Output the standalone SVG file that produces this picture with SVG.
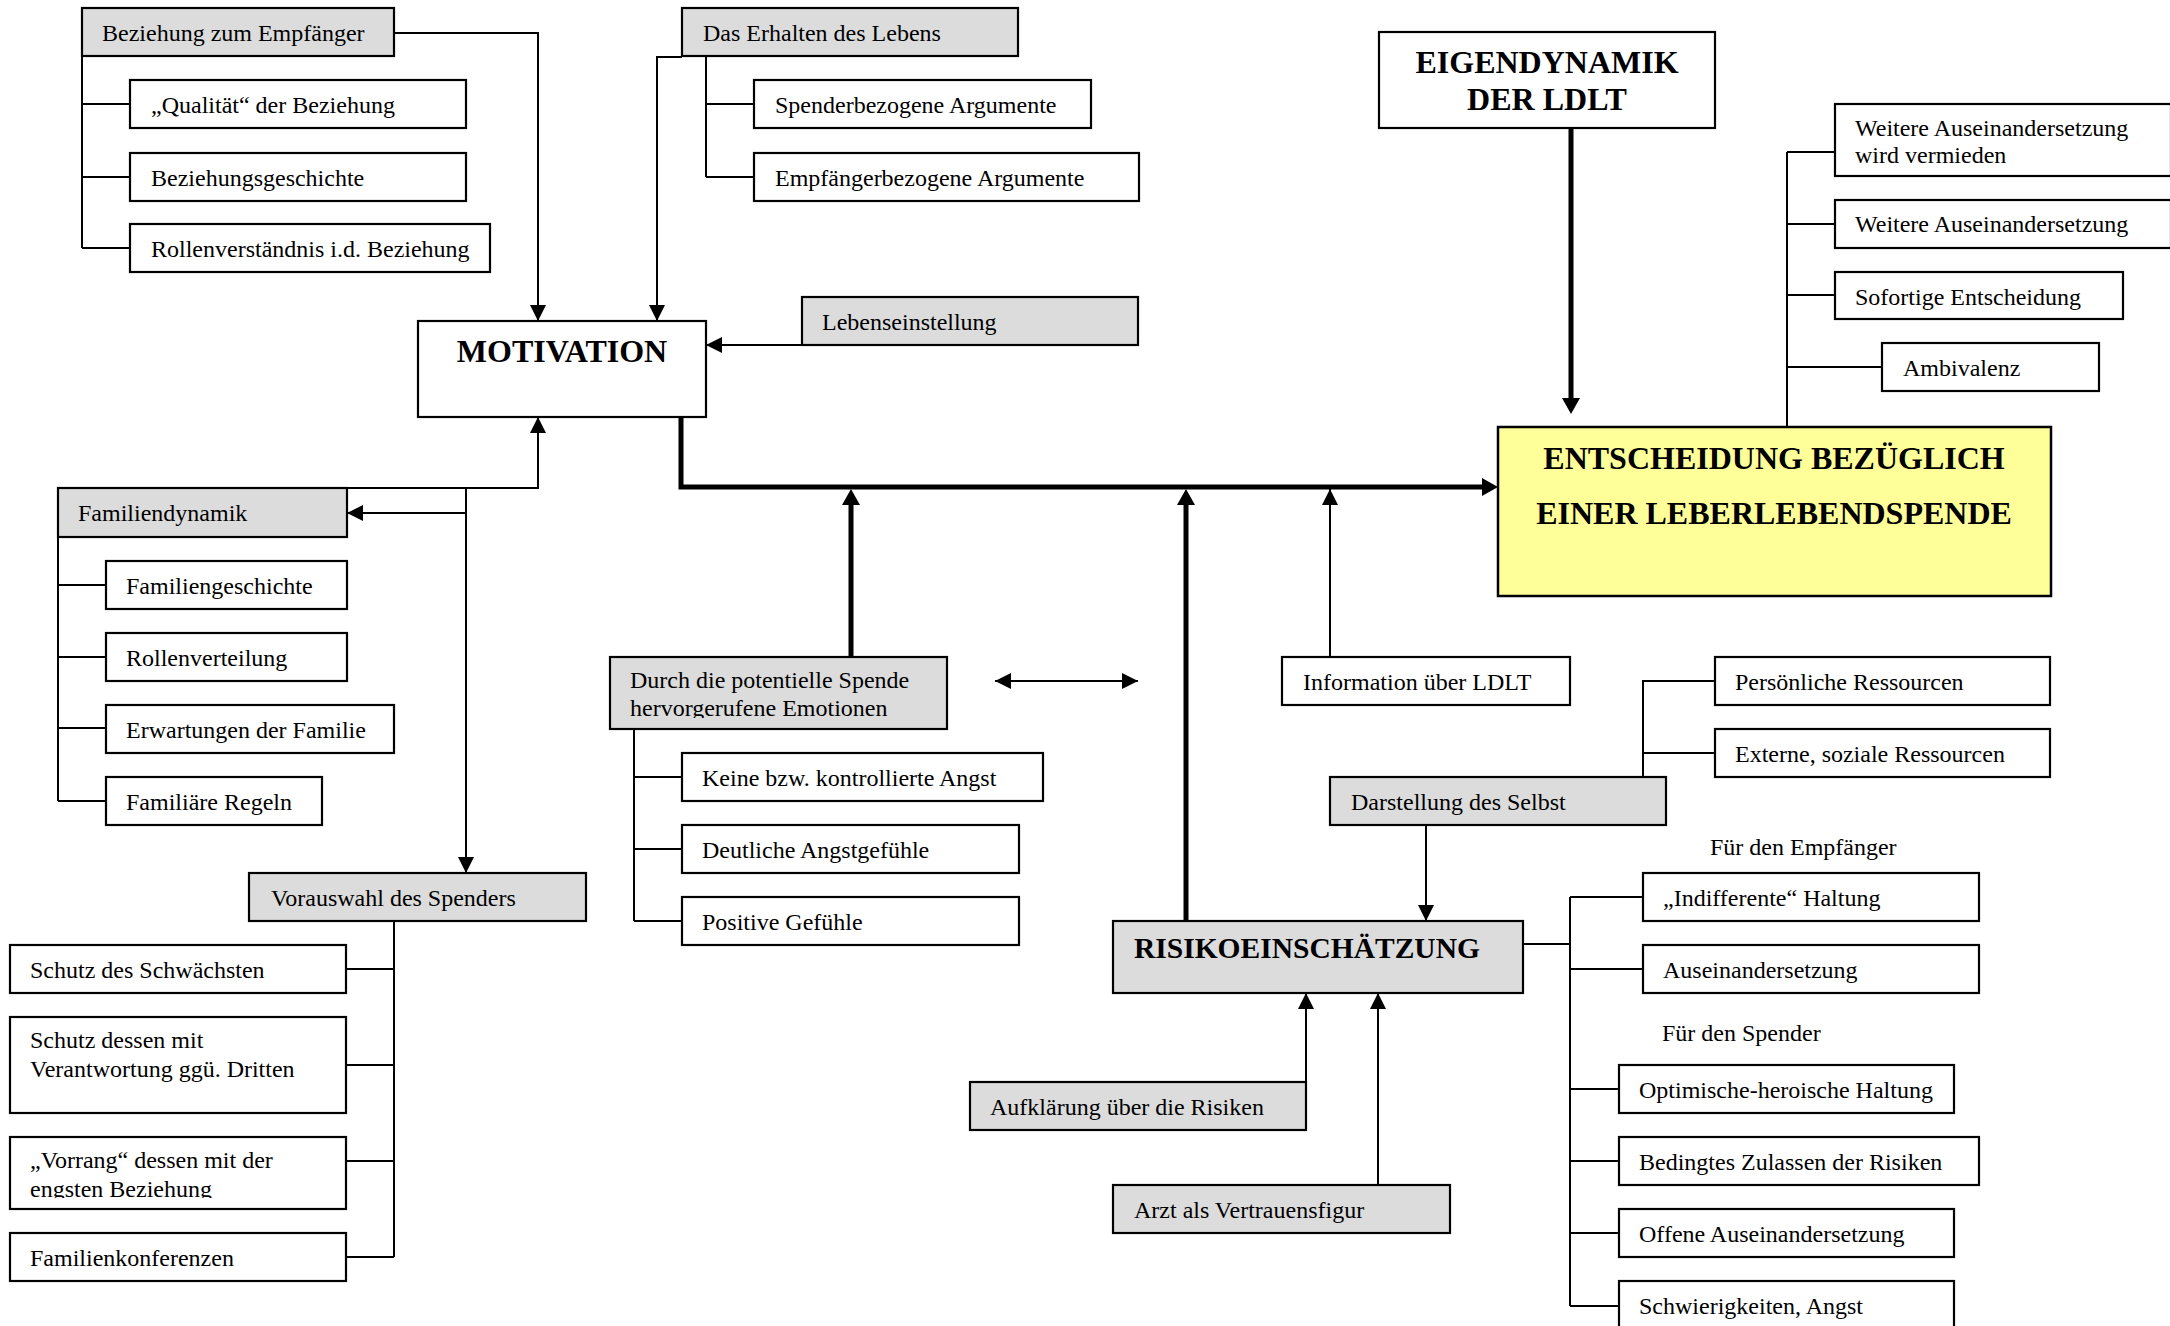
<svg xmlns="http://www.w3.org/2000/svg" width="2170" height="1326" viewBox="0 0 2170 1326">
<style>
 .b{fill:#fff;stroke:#000;stroke-width:2.2}
 .g{fill:#dcdcdc;stroke:#000;stroke-width:2.2}
 .y{fill:#ffff99;stroke:#000;stroke-width:2.5}
 text{font-family:"Liberation Serif","Times New Roman",serif;font-size:24px;fill:#000}
 .t{font-weight:bold;font-size:32px}
 .m{text-anchor:middle}
 .c{fill:none;stroke:#000;stroke-width:2}
 .k{fill:none;stroke:#000;stroke-width:5}
 .a{marker-end:url(#ah)}
 .ak{marker-end:url(#ahk)}
 .d{marker-start:url(#ah);marker-end:url(#ah)}
</style>
<defs>
 <marker id="ah" viewBox="0 0 16 16" refX="16" refY="8" markerWidth="16" markerHeight="16" markerUnits="userSpaceOnUse" orient="auto-start-reverse"><path d="M0,0 L16,8 L0,16 Z" fill="#000"/></marker>
 <marker id="ahk" viewBox="0 0 16 18" refX="6" refY="9" markerWidth="16" markerHeight="18" markerUnits="userSpaceOnUse" orient="auto"><path d="M0,0 L16,9 L0,18 Z" fill="#000"/></marker>
 <clipPath id="clipEmo"><rect x="600" y="650" width="360" height="68"/></clipPath>
 <clipPath id="clipVor"><rect x="0" y="1130" width="360" height="68"/></clipPath>
</defs>

<g id="connectors">
 <path class="c" d="M82,56 V248 M82,104 H130 M82,177 H130 M82,248 H130"/>
 <path class="c a" d="M394,33 H538 V321"/>
 <path class="c" d="M706,56 V177 M706,104 H754 M706,177 H754"/>
 <path class="c a" d="M682,57 H657 V321"/>
 <path class="c a" d="M802,345 H706"/>
 <path class="k ak" d="M1571,128 V404"/>
 <path class="c" d="M1787,152 V439 M1787,152 H1835 M1787,224 H1835 M1787,295 H1835 M1787,367 H1882"/>
 <path class="k ak" d="M681,417 V487 H1488"/>
 <path class="k ak" d="M851,657 V499"/>
 <path class="k ak" d="M1186,921 V499"/>
 <path class="c a" d="M1330,657 V489"/>
 <path class="c a" d="M347,488 H538 V417"/>
 <path class="c a" d="M466,488 V873"/>
 <path class="c a" d="M466,513 H347"/>
 <path class="c" d="M58,537 V801 M58,585 H106 M58,657 H106 M58,728 H106 M58,801 H106"/>
 <path class="c" d="M394,921 V1257 M346,969 H394 M346,1065 H394 M346,1161 H394 M346,1257 H394"/>
 <path class="c" d="M634,729 V921 M634,777 H682 M634,849 H682 M634,921 H682"/>
 <path class="c d" d="M995,681 H1138"/>
 <path class="c" d="M1643,777 V681 H1715 M1643,753 H1715"/>
 <path class="c a" d="M1426,825 V921"/>
 <path class="c" d="M1523,944 H1570 M1570,897 V1306 M1570,897 H1643 M1570,969 H1643 M1570,1089 H1619 M1570,1161 H1619 M1570,1233 H1619 M1570,1306 H1619"/>
 <path class="c a" d="M1306,1082 V993"/>
 <path class="c a" d="M1378,1185 V993"/>
</g>

<g id="bez"><rect class="g" x="82" y="8" width="312" height="48"/><text x="102" y="41">Beziehung zum Empfänger</text></g>
<g id="bez1"><rect class="b" x="130" y="80" width="336" height="48"/><text x="151" y="113">„Qualität“ der Beziehung</text></g>
<g id="bez2"><rect class="b" x="130" y="153" width="336" height="48"/><text x="151" y="186">Beziehungsgeschichte</text></g>
<g id="bez3"><rect class="b" x="130" y="224" width="360" height="48"/><text x="151" y="257">Rollenverständnis i.d. Beziehung</text></g>

<g id="erh"><rect class="g" x="682" y="8" width="336" height="48"/><text x="703" y="41">Das Erhalten des Lebens</text></g>
<g id="erh1"><rect class="b" x="754" y="80" width="337" height="48"/><text x="775" y="113">Spenderbezogene Argumente</text></g>
<g id="erh2"><rect class="b" x="754" y="153" width="385" height="48"/><text x="775" y="186">Empfängerbezogene Argumente</text></g>

<g id="mot"><rect class="b" x="418" y="321" width="288" height="96"/><text class="t m" x="562" y="362">MOTIVATION</text></g>
<g id="leb"><rect class="g" x="802" y="297" width="336" height="48"/><text x="822" y="330">Lebenseinstellung</text></g>

<g id="eigen"><rect class="b" x="1379" y="32" width="336" height="96"/><text class="t m" x="1547" y="73">EIGENDYNAMIK</text><text class="t m" x="1547" y="110">DER LDLT</text></g>

<g id="entsch"><rect class="y" x="1498" y="427" width="553" height="169"/><text class="t m" x="1774" y="469">ENTSCHEIDUNG BEZÜGLICH</text><text class="t m" x="1774" y="524">EINER LEBERLEBENDSPENDE</text></g>

<g id="opt1"><rect class="b" x="1835" y="104" width="336" height="72"/><text x="1855" y="136">Weitere Auseinandersetzung</text><text x="1855" y="163">wird vermieden</text></g>
<g id="opt2"><rect class="b" x="1835" y="200" width="336" height="48"/><text x="1855" y="232">Weitere Auseinandersetzung</text></g>
<g id="opt3"><rect class="b" x="1835" y="272" width="288" height="47"/><text x="1855" y="305">Sofortige Entscheidung</text></g>
<g id="opt4"><rect class="b" x="1882" y="343" width="217" height="48"/><text x="1903" y="376">Ambivalenz</text></g>

<g id="fam"><rect class="g" x="58" y="488" width="289" height="49"/><text x="78" y="521">Familiendynamik</text></g>
<g id="fam1"><rect class="b" x="106" y="561" width="241" height="48"/><text x="126" y="594">Familiengeschichte</text></g>
<g id="fam2"><rect class="b" x="106" y="633" width="241" height="48"/><text x="126" y="666">Rollenverteilung</text></g>
<g id="fam3"><rect class="b" x="106" y="705" width="288" height="48"/><text x="126" y="738">Erwartungen der Familie</text></g>
<g id="fam4"><rect class="b" x="106" y="777" width="216" height="48"/><text x="126" y="810">Familiäre Regeln</text></g>

<g id="vor"><rect class="g" x="249" y="873" width="337" height="48"/><text x="271" y="906">Vorauswahl des Spenders</text></g>
<g id="vor1"><rect class="b" x="10" y="945" width="336" height="48"/><text x="30" y="978">Schutz des Schwächsten</text></g>
<g id="vor2"><rect class="b" x="10" y="1017" width="336" height="96"/><text x="30" y="1048">Schutz dessen mit</text><text x="30" y="1077">Verantwortung ggü. Dritten</text></g>
<g id="vor3"><rect class="b" x="10" y="1137" width="336" height="72"/><g clip-path="url(#clipVor)"><text x="30" y="1168">„Vorrang“ dessen mit der</text><text x="30" y="1197">engsten Beziehung</text></g></g>
<g id="vor4"><rect class="b" x="10" y="1233" width="336" height="48"/><text x="30" y="1266">Familienkonferenzen</text></g>

<g id="emo"><rect class="g" x="610" y="657" width="337" height="72"/><g clip-path="url(#clipEmo)"><text x="630" y="688">Durch die potentielle Spende</text><text x="630" y="716">hervorgerufene Emotionen</text></g></g>
<g id="emo1"><rect class="b" x="682" y="753" width="361" height="48"/><text x="702" y="786">Keine bzw. kontrollierte Angst</text></g>
<g id="emo2"><rect class="b" x="682" y="825" width="337" height="48"/><text x="702" y="858">Deutliche Angstgefühle</text></g>
<g id="emo3"><rect class="b" x="682" y="897" width="337" height="48"/><text x="702" y="930">Positive Gefühle</text></g>

<g id="info"><rect class="b" x="1282" y="657" width="288" height="48"/><text x="1303" y="690">Information über LDLT</text></g>
<g id="pers"><rect class="b" x="1715" y="657" width="335" height="48"/><text x="1735" y="690">Persönliche Ressourcen</text></g>
<g id="ext"><rect class="b" x="1715" y="729" width="335" height="48"/><text x="1735" y="762">Externe, soziale Ressourcen</text></g>
<g id="dar"><rect class="g" x="1330" y="777" width="336" height="48"/><text x="1351" y="810">Darstellung des Selbst</text></g>

<g id="ris"><rect class="g" x="1113" y="921" width="410" height="72"/><text class="t" x="1134" y="958" style="font-size:29.5px">RISIKOEINSCHÄTZUNG</text></g>
<g id="auf"><rect class="g" x="970" y="1082" width="336" height="48"/><text x="990" y="1115">Aufklärung über die Risiken</text></g>
<g id="arzt"><rect class="g" x="1113" y="1185" width="337" height="48"/><text x="1134" y="1218">Arzt als Vertrauensfigur</text></g>

<g id="lblEmpf"><text x="1710" y="855">Für den Empfänger</text></g>
<g id="r1"><rect class="b" x="1643" y="873" width="336" height="48"/><text x="1663" y="906">„Indifferente“ Haltung</text></g>
<g id="r2"><rect class="b" x="1643" y="945" width="336" height="48"/><text x="1663" y="978">Auseinandersetzung</text></g>
<g id="lblSpend"><text x="1662" y="1041">Für den Spender</text></g>
<g id="r3"><rect class="b" x="1619" y="1065" width="335" height="48"/><text x="1639" y="1098">Optimische-heroische Haltung</text></g>
<g id="r4"><rect class="b" x="1619" y="1137" width="360" height="48"/><text x="1639" y="1170">Bedingtes Zulassen der Risiken</text></g>
<g id="r5"><rect class="b" x="1619" y="1209" width="335" height="48"/><text x="1639" y="1242">Offene Auseinandersetzung</text></g>
<g id="r6"><rect class="b" x="1619" y="1281" width="335" height="48"/><text x="1639" y="1314">Schwierigkeiten, Angst</text></g>
</svg>
